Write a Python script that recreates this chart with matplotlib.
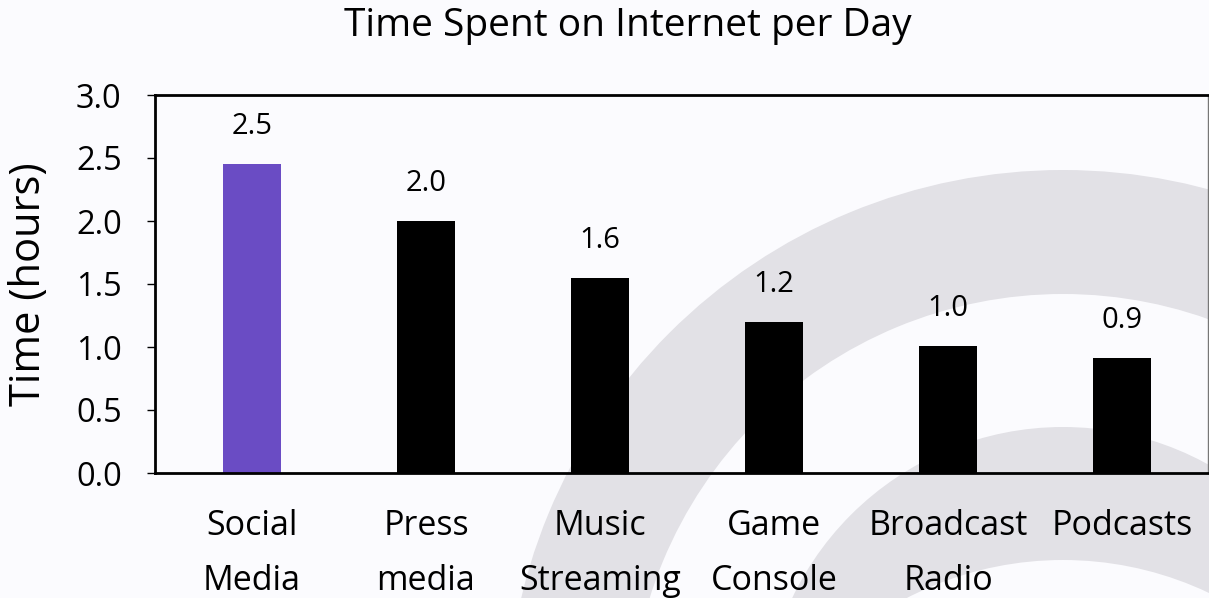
import matplotlib
matplotlib.use("Agg")
import matplotlib.pyplot as plt
from matplotlib.patches import Wedge, Circle

plt.rcParams["font.family"] = ["Open Sans", "DejaVu Sans"]

categories = ["Social\nMedia", "Press\nmedia", "Music\nStreaming",
              "Game\nConsole", "Broadcast\nRadio", "Podcasts"]
hours = [2.45, 2.0, 1.55, 1.2, 1.01, 0.91]
bar_colors = ["#6a4cc4", "black", "black", "black", "black", "black"]
y_ticks = [0.0, 0.5, 1.0, 1.5, 2.0, 2.5, 3.0]

BG = "#fbfbfe"
ARC = "#e2e1e6"
W, H = 1209, 598

fig = plt.figure(figsize=(W / 100, H / 100), dpi=100, facecolor=BG)

# decorative rings behind everything, in pixel units
bg = fig.add_axes([0, 0, 1, 1], zorder=-1)
bg.set_xlim(0, W)
bg.set_ylim(H, 0)
bg.axis("off")
bg.add_patch(Wedge((1063, 727), 557, 0, 360, width=124, color=ARC, lw=0))
bg.add_patch(Circle((1063, 727), 300, color=ARC, lw=0))
bg.add_patch(Circle((1063, 900), 340, color=BG, lw=0))

ax = fig.add_axes([155 / W, 1 - 473 / H, (1208 - 155) / W, (473 - 95) / H])
ax.set_facecolor("none")

x = range(len(categories))
bars = ax.bar(x, hours, width=0.33, color=bar_colors)

for b, v in zip(bars, hours):
    ax.annotate(f"{v:.1f}", (b.get_x() + b.get_width() / 2, v),
                xytext=(0, 27), textcoords="offset points",
                ha="center", va="center", fontsize=21)

ax.set_xlim(-0.557, 5.494)
ax.set_ylim(0, 3.0)
ax.set_yticks(y_ticks)
ax.set_yticklabels([f"{t:.1f}" for t in y_ticks], fontsize=23.5)
ax.set_xticks(list(x))
ax.set_xticklabels(categories, fontsize=24.5, linespacing=1.8)
ax.tick_params(axis="x", length=0, pad=26)
ax.tick_params(axis="y", length=6, width=1, pad=18)

for side in ["left", "top", "bottom"]:
    ax.spines[side].set_linewidth(2)
    ax.spines[side].set_color("black")
ax.spines["right"].set_linewidth(1)
ax.spines["right"].set_color("#777777")

ax.set_ylabel("Time (hours)", fontsize=30, labelpad=19)
fig.text(628 / W, 1 - 36 / H, "Time Spent on Internet per Day",
         ha="center", va="baseline", fontsize=28)

fig.savefig("out.png", dpi=100, facecolor=BG)
